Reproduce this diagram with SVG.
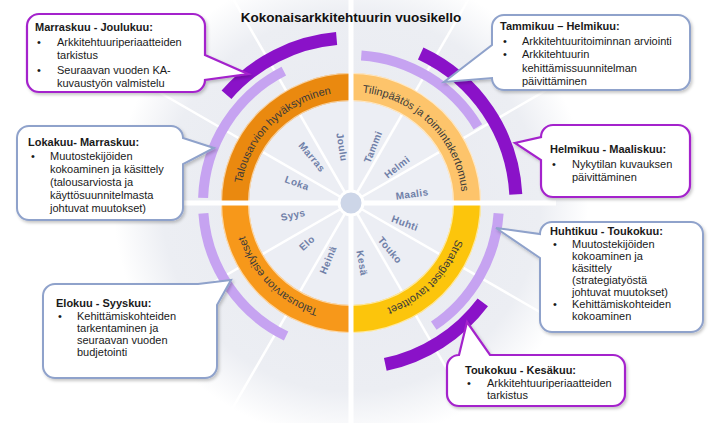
<svg xmlns="http://www.w3.org/2000/svg" width="720" height="423" viewBox="0 0 720 423">
<defs>
<style>
.ring{fill:none;stroke-width:28}
.lav{fill:none;stroke:#c6a3f1;stroke-width:10}
.dp{fill:none;stroke:#8a12c8;stroke-width:13}
.spoke{stroke:#ffffff;stroke-width:2.5}
.rl{font-family:"Liberation Sans",Arial,sans-serif;font-size:11px;fill:#3a3a3a}
.mo{font-family:"Liberation Sans",Arial,sans-serif;font-size:10px;font-weight:bold;fill:#7080a8;letter-spacing:0.4px}
.cp{fill:#ffffff;stroke:#a424cc;stroke-width:2.2;filter:url(#sh)}
.cb{fill:#ffffff;stroke:#8fa2cb;stroke-width:2;filter:url(#sh)}
.ct{font-family:"Liberation Sans",Arial,sans-serif;font-size:11px;fill:#1a1a1a}
.ctb{font-weight:bold}
</style>
<radialGradient id="bg" cx="351" cy="203" r="270" gradientUnits="userSpaceOnUse">
<stop offset="0" stop-color="#e7e9f0"/>
<stop offset="0.7" stop-color="#eceef3"/>
<stop offset="0.88" stop-color="#ffffff"/>
</radialGradient>
<filter id="sh" x="-10%" y="-10%" width="125%" height="135%">
<feDropShadow dx="1.5" dy="2" stdDeviation="1.5" flood-color="#000" flood-opacity="0.22"/>
</filter>
<path id="tpTL" d="M-111,0 A111,111 0 0 1 0,-111"/>
<path id="tpTR" d="M0,-111 A111,111 0 0 1 111,0"/>
<path id="tpBR" d="M111,0 A111,111 0 0 1 0,111"/>
<path id="tpBL" d="M0,111 A111,111 0 0 1 -111,0"/>
</defs>
<rect x="0" y="0" width="720" height="423" fill="#ffffff"/>
<rect x="0" y="0" width="720" height="423" fill="url(#bg)"/>

<g id="wheel" transform="translate(351,203)">
<circle r="102" fill="#eceef4"/>
<g id="spokes">
<line class="spoke" x1="0" y1="0" x2="150" y2="-259.8"/>
<line class="spoke" x1="0" y1="0" x2="259.8" y2="-150"/>
<line class="spoke" x1="0" y1="0" x2="259.8" y2="150"/>
<line class="spoke" x1="0" y1="0" x2="150" y2="259.8"/>
<line class="spoke" x1="0" y1="0" x2="-150" y2="259.8"/>
<line class="spoke" x1="0" y1="0" x2="-259.8" y2="150"/>
<line class="spoke" x1="0" y1="0" x2="-259.8" y2="-150"/>
<line class="spoke" x1="0" y1="0" x2="-150" y2="-259.8"/>
</g>
<g id="ring">
<path class="ring" stroke="#ea890f" d="M-116,0 A116,116 0 0 1 0,-116"/>
<path class="ring" stroke="#fdc46b" d="M0,-116 A116,116 0 0 1 116,0"/>
<path class="ring" stroke="#fcc50c" d="M116,0 A116,116 0 0 1 0,116"/>
<path class="ring" stroke="#f7981a" d="M0,116 A116,116 0 0 1 -116,0"/>
<circle r="102.5" fill="none" stroke="#ffffff" stroke-opacity="0.6" stroke-width="1.2"/>
<circle r="129.5" fill="none" stroke="#ffffff" stroke-opacity="0.6" stroke-width="1.2"/>
</g>
<line x1="0" y1="-210" x2="0" y2="225" stroke="#ffffff" stroke-width="5"/>
<line x1="-205" y1="0" x2="205" y2="0" stroke="#ffffff" stroke-width="5"/>
<g id="lavender">
<path class="lav" d="M-147.9,-5.2 A148,148 0 0 1 -67.2,-131.9"/>
<path class="lav" d="M-64.9,133 A148,148 0 0 1 -147.6,10.3"/>
<path class="lav" d="M10.3,-147.6 A148,148 0 0 1 126.9,-76.2"/>
<path class="lav" d="M147.6,10.3 A148,148 0 0 1 82.8,122.7"/>
</g>
<g id="darkpurple">
<path class="dp" d="M-124.5,-108.3 A165,165 0 0 1 -14.4,-164.4"/>
<path class="dp" d="M69.7,-149.5 A165,165 0 0 1 164.8,-8.6"/>
<path class="dp" d="M131.8,99.3 A165,165 0 0 1 34.3,161.4"/>
</g>
<circle r="12" fill="#cdd6e8" stroke="#ffffff" stroke-width="3"/>
<g id="ringlabels">
<text class="rl" text-anchor="middle"><textPath href="#tpTL" startOffset="50%">Talousarvion hyväksyminen</textPath></text>
<text class="rl" text-anchor="middle"><textPath href="#tpTR" startOffset="50%">Tilinpäätös ja toimintakertomus</textPath></text>
<text class="rl" text-anchor="middle"><textPath href="#tpBR" startOffset="50%">Strategiset tavoitteet</textPath></text>
<text class="rl" text-anchor="middle"><textPath href="#tpBL" startOffset="50%">Talousarvion esitykset</textPath></text>
</g>
<g id="months" text-anchor="middle" dominant-baseline="central">
<text class="mo" x="-9" y="-56" transform="rotate(81 -9 -56)">Joulu</text>
<text class="mo" x="-39" y="-46" transform="rotate(50 -39 -46)">Marras</text>
<text class="mo" x="-54" y="-20" transform="rotate(20 -54 -20)">Loka</text>
<text class="mo" x="22" y="-56" transform="rotate(-68 22 -56)">Tammi</text>
<text class="mo" x="46" y="-36" transform="rotate(-38 46 -36)">Helmi</text>
<text class="mo" x="61" y="-9" transform="rotate(-8 61 -9)">Maalis</text>
<text class="mo" x="54" y="20" transform="rotate(20 54 20)">Huhti</text>
<text class="mo" x="39" y="47" transform="rotate(50 39 47)">Touko</text>
<text class="mo" x="11" y="60" transform="rotate(80 11 60)">Kesä</text>
<text class="mo" x="-23" y="57" transform="rotate(-68 -23 57)">Heinä</text>
<text class="mo" x="-44" y="40" transform="rotate(-42 -44 40)">Elo</text>
<text class="mo" x="-58" y="12" transform="rotate(-12 -58 12)">Syys</text>
</g>
</g>

<text x="351" y="22" text-anchor="middle" font-family="Liberation Sans, Arial, sans-serif" font-size="13.5" font-weight="bold" fill="#111">Kokonaisarkkitehtuurin vuosikello</text>

<g id="callout-marras-joulu">
<path class="cp" d="M39,14 H193 A12,12 0 0 1 205,26 V55 L248,74 L205,80 A12,12 0 0 1 193,92 H39 A12,12 0 0 1 27,80 V26 A12,12 0 0 1 39,14 Z"/>
<text class="ct ctb" x="35" y="31">Marraskuu - Joulukuu:</text>
<text class="ct" x="37" y="46">•</text><text class="ct" x="57" y="46">Arkkitehtuuriperiaatteiden</text>
<text class="ct" x="57" y="59">tarkistus</text>
<text class="ct" x="37" y="74">•</text><text class="ct" x="57" y="74">Seuraavan vuoden KA-</text>
<text class="ct" x="57" y="87">kuvaustyön valmistelu</text>
</g>

<g id="callout-tammi-helmi">
<path class="cb" d="M504,15 H678 A12,12 0 0 1 690,27 V78 A12,12 0 0 1 678,90 H504 A12,12 0 0 1 492,78 L444,82 L492,45 V27 A12,12 0 0 1 504,15 Z"/>
<text class="ct ctb" x="500" y="30">Tammikuu – Helmikuu:</text>
<text class="ct" x="503" y="45">•</text><text class="ct" x="522" y="45">Arkkitehtuuritoiminnan arviointi</text>
<text class="ct" x="503" y="58">•</text><text class="ct" x="522" y="58">Arkkitehtuurin</text>
<text class="ct" x="522" y="72">kehittämissuunnitelman</text>
<text class="ct" x="522" y="85">päivittäminen</text>
</g>

<g id="callout-loka-marras">
<path class="cb" d="M29,126 H171 A12,12 0 0 1 183,138 L214,148 L183,164 V208 A12,12 0 0 1 171,220 H29 A12,12 0 0 1 17,208 V138 A12,12 0 0 1 29,126 Z"/>
<text class="ct ctb" x="28" y="146">Lokakuu- Marraskuu:</text>
<text class="ct" x="31" y="160">•</text><text class="ct" x="50" y="160">Muutostekijöiden</text>
<text class="ct" x="50" y="173">kokoaminen ja käsittely</text>
<text class="ct" x="50" y="186">(talousarviosta ja</text>
<text class="ct" x="50" y="199">käyttösuunnitelmasta</text>
<text class="ct" x="50" y="212">johtuvat muutokset)</text>
</g>

<g id="callout-helmi-maalis">
<path class="cp" d="M553,125 H678 A12,12 0 0 1 690,137 V185 A12,12 0 0 1 678,197 H553 A12,12 0 0 1 541,185 V160 L515,143 L541,137 A12,12 0 0 1 553,125 Z"/>
<text class="ct ctb" x="550" y="153">Helmikuu - Maaliskuu:</text>
<text class="ct" x="552" y="168">•</text><text class="ct" x="572" y="168">Nykytilan kuvauksen</text>
<text class="ct" x="572" y="181">päivittäminen</text>
</g>

<g id="callout-huhti-touko">
<path class="cb" d="M552,222 H691 A12,12 0 0 1 703,234 V320 A12,12 0 0 1 691,332 H552 A12,12 0 0 1 540,320 V258 L496,228 L540,234 A12,12 0 0 1 552,222 Z"/>
<text class="ct ctb" x="550" y="235">Huhtikuu - Toukokuu:</text>
<text class="ct" x="553" y="248">•</text><text class="ct" x="572" y="248">Muutostekijöiden</text>
<text class="ct" x="572" y="260">kokoaminen ja</text>
<text class="ct" x="572" y="272">käsittely</text>
<text class="ct" x="572" y="284">(strategiatyöstä</text>
<text class="ct" x="572" y="296">johtuvat muutokset)</text>
<text class="ct" x="553" y="308">•</text><text class="ct" x="572" y="308">Kehittämiskohteiden</text>
<text class="ct" x="572" y="320">kokoaminen</text>
</g>

<g id="callout-elo-syys">
<path class="cb" d="M55,284 H198 L231,280 L217,305 V366 A12,12 0 0 1 205,378 H55 A12,12 0 0 1 43,366 V296 A12,12 0 0 1 55,284 Z"/>
<text class="ct ctb" x="56" y="307">Elokuu - Syyskuu:</text>
<text class="ct" x="58" y="320">•</text><text class="ct" x="77" y="320">Kehittämiskohteiden</text>
<text class="ct" x="77" y="332">tarkentaminen ja</text>
<text class="ct" x="77" y="344">seuraavan vuoden</text>
<text class="ct" x="77" y="356">budjetointi</text>
</g>

<g id="callout-touko-kesa">
<path class="cp" d="M459,355 L467,322 L490,355 H613 A12,12 0 0 1 625,367 V394 A12,12 0 0 1 613,406 H459 A12,12 0 0 1 447,394 V367 A12,12 0 0 1 459,355 Z"/>
<text class="ct ctb" x="465" y="374">Toukokuu - Kesäkuu:</text>
<text class="ct" x="467" y="387">•</text><text class="ct" x="487" y="387">Arkkitehtuuriperiaatteiden</text>
<text class="ct" x="487" y="399">tarkistus</text>
</g>
</svg>
